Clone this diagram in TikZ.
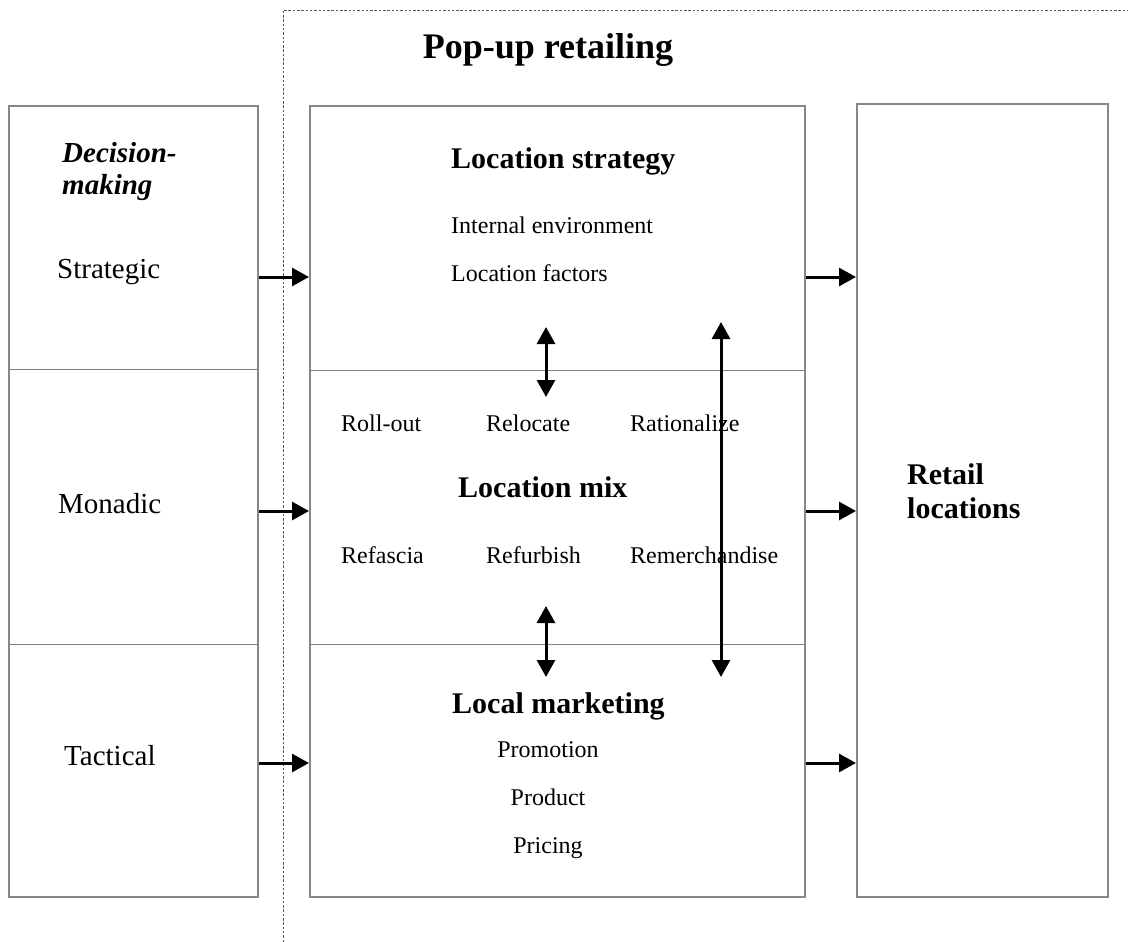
\documentclass[tikz,border=0pt]{standalone}
\usepackage{fontspec}
\setmainfont{Liberation Serif}
\usetikzlibrary{arrows.meta}

\begin{document}
\begin{tikzpicture}[x=1pt,y=-1pt,
  outer/.style={draw=black!47,line width=1.8pt,inner sep=0pt,anchor=north west},
  divider/.style={draw=black!50,line width=1pt},
  arr/.style={line width=3pt,-{Triangle[length=17pt,width=18pt]}},
  dblarr/.style={line width=3pt,{Triangle[length=17pt,width=18pt]}-{Triangle[length=17pt,width=18pt]}},
  frame/.style={draw=black!65,line width=0.9pt,dash pattern=on 2.5pt off 1.8pt},
  title/.style={font=\fontsize{36}{40}\selectfont\bfseries,inner sep=0pt},
  head/.style={font=\fontsize{30}{32}\selectfont\bfseries,inner sep=0pt,anchor=base west},
  item/.style={font=\fontsize{24}{26}\selectfont,inner sep=0pt,anchor=base west},
  level/.style={font=\fontsize{29}{31}\selectfont,inner sep=0pt,anchor=base west}]

\useasboundingbox (0,0) rectangle (1128,942);
\fill[white] (0,0) rectangle (1128,942);

% dotted frame around the pop-up retailing block
\coordinate (fcorner) at (283,10);
\coordinate (fbottom) at (283,942);
\coordinate (fright) at (1128,10);
\draw[frame] (fbottom) -- (fcorner) -- (fright);

\node[title,anchor=base] (title) at (548,59) {Pop-up retailing};

% left column: decision-making levels
\node[outer,minimum width=249pt,minimum height=791pt] (lbox) at (8,105) {};
\coordinate (ld1) at (8,369);
\coordinate (ld2) at (8,644);
\draw[divider] (ld1) -- (ld1 -| lbox.east);
\draw[divider] (ld2) -- (ld2 -| lbox.east);

\node[font=\fontsize{29}{31}\selectfont\bfseries\itshape,inner sep=0pt,anchor=base west] (dm1) at (62,162) {Decision-};
\node[font=\fontsize{29}{31}\selectfont\bfseries\itshape,inner sep=0pt,anchor=base west] (dm2) at (62,194) {making};
\node[level] (strategic) at (57,278) {Strategic};
\node[level] (monadic) at (58,513) {Monadic};
\node[level] (tactical) at (64,765) {Tactical};

% middle column: location decisions
\node[outer,minimum width=495pt,minimum height=791pt] (mbox) at (309,105) {};
\coordinate (md1) at (309,370);
\coordinate (md2) at (309,644);
\draw[divider] (md1) -- (md1 -| mbox.east);
\draw[divider] (md2) -- (md2 -| mbox.east);

\node[head] (lstrat) at (451,168) {Location strategy};
\node[item] (internal) at (451,233) {Internal environment};
\node[item] (factors) at (451,281) {Location factors};

\node[item] (rollout) at (341,431) {Roll-out};
\node[item] (relocate) at (486,431) {Relocate};
\node[item] (rational) at (630,431) {Rationalize};
\node[head] (lmix) at (458,497) {Location mix};
\node[item] (refascia) at (341,563) {Refascia};
\node[item] (refurbish) at (486,563) {Refurbish};
\node[item] (remerch) at (630,563) {Remerchandise};

\node[head] (lmark) at (452,713) {Local marketing};
\node[item,anchor=base] (promotion) at (548,757) {Promotion};
\node[item,anchor=base] (product) at (548,805) {Product};
\node[item,anchor=base] (pricing) at (548,853) {Pricing};

% right column: outcome
\node[outer,minimum width=251pt,minimum height=793pt] (retail) at (856,103) {};
\node[head] (ret1) at (907,484) {Retail};
\node[head] (ret2) at (907,518) {locations};

% horizontal flows
\coordinate (row1) at (0,277);
\coordinate (row2) at (0,511);
\coordinate (row3) at (0,763);
\foreach \r in {row1,row2,row3}{
  \draw[arr] (lbox.east |- \r) -- (mbox.west |- \r);
  \draw[arr] (mbox.east |- \r) -- (retail.west |- \r);
}

% vertical links between the middle layers
\coordinate (v1a) at (546,327);
\coordinate (v1b) at (546,397);
\coordinate (v2a) at (546,606);
\coordinate (v2b) at (546,677);
\coordinate (v3a) at (721,322);
\coordinate (v3b) at (721,677);
\draw[dblarr] (v1a) -- (v1b);
\draw[dblarr] (v2a) -- (v2b);
\draw[dblarr] (v3a) -- (v3b);

\end{tikzpicture}
\end{document}
